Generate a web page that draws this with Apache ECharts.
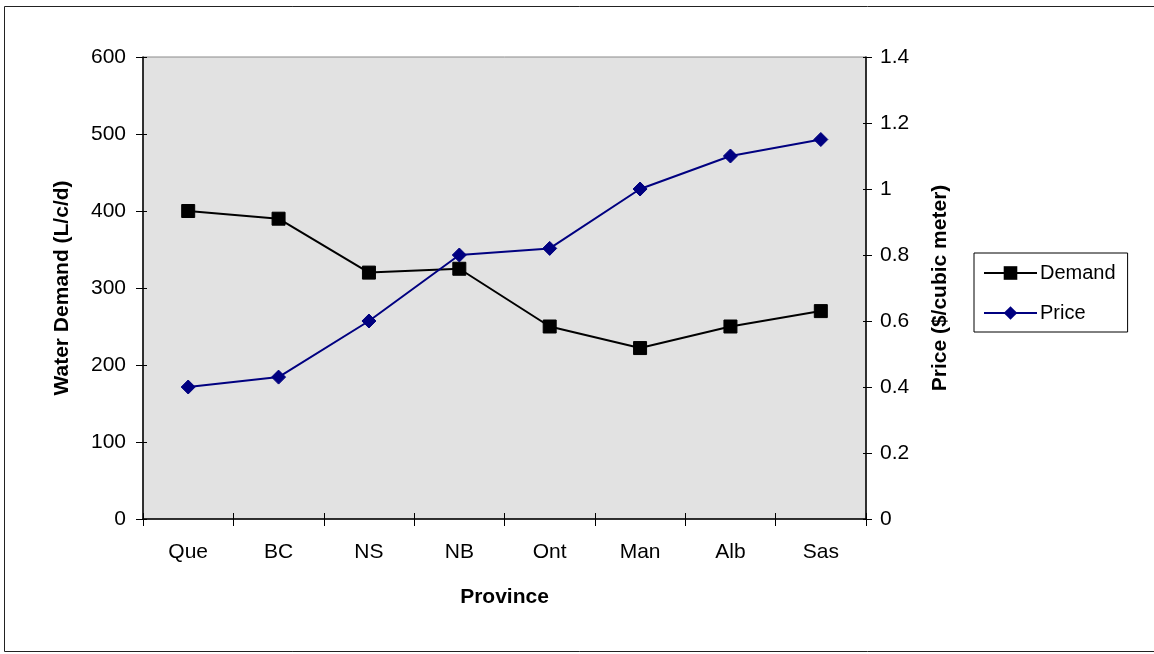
<!DOCTYPE html>
<html>
<head>
<meta charset="utf-8">
<script src="https://cdn.jsdelivr.net/npm/echarts@6/dist/echarts.min.js"></script>
<style>
  html, body { margin: 0; padding: 0; background: #ffffff; }
  #chart { width: 1154px; height: 654px; }
</style>
</head>
<body>
<div id="chart"></div>
<script>
// Provinces along the x axis
const provinces = ['Que', 'BC', 'NS', 'NB', 'Ont', 'Man', 'Alb', 'Sas'];
// Residential water demand, litres per capita per day
const demand = [400, 390, 320, 325, 250, 222, 250, 270];
// Water price, dollars per cubic meter
const price = [0.40, 0.43, 0.60, 0.80, 0.82, 1.00, 1.10, 1.15];

const FONT = '"Liberation Sans", Arial, sans-serif';
const labelStyle = { color: '#000', fontSize: 21, fontFamily: FONT };
const nameStyle = { color: '#000', fontSize: 21, fontWeight: 'bold', fontFamily: FONT };

const chart = echarts.init(document.getElementById('chart'), null, { renderer: 'canvas' });

chart.setOption({
  animation: false,
  backgroundColor: '#ffffff',
  graphic: [{
    type: 'rect',
    shape: { x: 4.5, y: 6.5, width: 1152, height: 645 },
    style: { fill: 'none', stroke: '#222', lineWidth: 1 },
    z: 100
  }],
  grid: {
    left: 143, right: 288, top: 57, bottom: 135,
    show: true,
    backgroundColor: '#e2e2e2',
    borderColor: '#8a8a8a',
    borderWidth: 1
  },
  legend: {
    orient: 'vertical',
    left: 974, top: 253,
    padding: [10, 12, 9, 9],
    itemGap: 20,
    itemWidth: 53,
    itemHeight: 17,
    borderColor: '#000',
    borderWidth: 1,
    backgroundColor: '#fff',
    textStyle: { color: '#000', fontSize: 20, fontFamily: FONT, padding: [0, 0, 0, -2] },
    data: ['Demand', 'Price']
  },
  xAxis: [{
    type: 'category',
    data: provinces,
    boundaryGap: true,
    name: 'Province',
    nameLocation: 'middle',
    nameGap: 68,
    nameTextStyle: nameStyle,
    axisLine: { lineStyle: { color: '#000', width: 1.5 } },
    axisTick: { show: true, length: 7, alignWithLabel: false, lineStyle: { color: '#000' } },
    axisLabel: Object.assign({ margin: 23 }, labelStyle),
    splitLine: { show: false }
  }, {
    // inner half of the crossing ticks on the category axis
    type: 'category',
    data: provinces,
    position: 'bottom',
    boundaryGap: true,
    axisLine: { show: false },
    axisTick: { show: true, inside: true, length: 6, lineStyle: { color: '#000' } },
    axisLabel: { show: false },
    splitLine: { show: false }
  }],
  yAxis: [{
    type: 'value',
    min: 0, max: 600, interval: 100,
    position: 'left',
    name: 'Water Demand (L/c/d)',
    nameLocation: 'middle',
    nameGap: 70,
    nameTextStyle: nameStyle,
    axisLine: { show: true, lineStyle: { color: '#000', width: 1.5 } },
    axisTick: { show: true, length: 7, lineStyle: { color: '#000' } },
    axisLabel: Object.assign({ margin: 17 }, labelStyle),
    splitLine: { show: false }
  }, {
    type: 'value',
    min: 0, max: 1.4, interval: 0.2,
    position: 'right',
    name: 'Price ($/cubic meter)',
    nameLocation: 'middle',
    nameGap: 64,
    nameRotate: 90,
    nameTextStyle: nameStyle,
    axisLine: { show: true, lineStyle: { color: '#000', width: 1.5 } },
    axisTick: { show: true, length: 6, lineStyle: { color: '#000' } },
    axisLabel: Object.assign({ margin: 14, formatter: v => String(+v.toFixed(1)) }, labelStyle),
    splitLine: { show: false }
  }, {
    // inner half of the crossing ticks on the left axis
    type: 'value',
    min: 0, max: 600, interval: 100,
    position: 'left',
    axisLine: { show: false },
    axisTick: { show: true, inside: true, length: 4, lineStyle: { color: '#000' } },
    axisLabel: { show: false },
    splitLine: { show: false }
  }, {
    // inner half of the crossing ticks on the right axis
    type: 'value',
    min: 0, max: 1.4, interval: 0.2,
    position: 'right',
    axisLine: { show: false },
    axisTick: { show: true, inside: true, length: 3, lineStyle: { color: '#000' } },
    axisLabel: { show: false },
    splitLine: { show: false }
  }],
  series: [{
    name: 'Demand',
    type: 'line',
    xAxisIndex: 0,
    yAxisIndex: 0,
    data: demand,
    symbol: 'rect',
    symbolSize: 13,
    showAllSymbol: true,
    lineStyle: { color: '#000', width: 2 },
    itemStyle: { color: '#000', borderColor: '#000' },
    z: 3
  }, {
    name: 'Price',
    type: 'line',
    xAxisIndex: 0,
    yAxisIndex: 1,
    data: price,
    symbol: 'diamond',
    symbolSize: 14,
    showAllSymbol: true,
    lineStyle: { color: '#000080', width: 2 },
    itemStyle: { color: '#000080', borderColor: '#000080' },
    z: 4
  }]
});
</script>
</body>
</html>
